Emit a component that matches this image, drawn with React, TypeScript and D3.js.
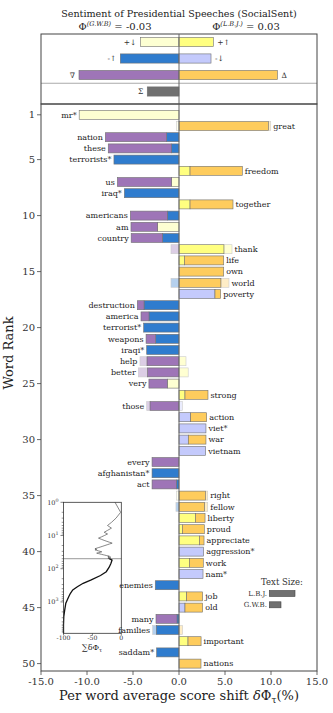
import React from 'react';
import * as d3 from 'd3';

// ---- data ----
const words = ['mr*','great','nation','these','terrorists*','freedom','us','iraq*','together','americans','am','country','thank','life','own','world','poverty','destruction','america','terrorist*','weapons','iraqi*','help','better','very','strong','those','action','viet*','war','vietnam','every','afghanistan*','act','right','fellow','liberty','proud','appreciate','aggression*','work','nam*','enemies','job','old','many','families','important','saddam*','nations'];
// frequency component of each word's shift
const freqParts = [-10.85,-0.25,-1.34,-0.84,-7.07,1.2,-0.8,-5.94,1.2,-1.27,-2.32,-1.8,5.76,0.58,0,-0.87,3.91,-3.8,-3.26,-3.84,-2.53,-3.51,0.76,1.0,-1.27,0.65,0.36,1.27,2.93,1.01,2.9,0,-2.93,-0.29,-0.25,-0.33,1.78,0.36,2.21,2.68,1.12,2.61,-2.58,0.83,0.65,-0.22,-2.86,0.98,-2.43,0];
const freqTypes = ['+d','+d','-u','-u','-u','+u','+d','-u','+u','-u','+d','-u','+u','+u','+u','-u','-d','-u','-u','-u','-u','-u','+u','+u','+d','+u','-d','-d','-d','-d','-d','-u','-u','-u','+d','-u','+u','+u','+u','-d','+u','-d','-u','+u','-d','-u','-u','+u','-u','+u'];
// score (sentiment change) component
const scoreParts = [0,9.97,-6.67,-6.85,0,5.68,-5.9,0,4.67,-4.02,-2.9,-3.4,-0.87,4.28,4.86,5.43,0.62,-0.73,-0.87,0,-1.05,0,-4.24,-4.42,-2.0,2.5,-3.51,1.74,0,1.92,0,-2.93,0,-2.64,3.12,3.12,1.05,2.39,0.51,0,1.52,0,0,1.74,1.92,-2.28,0.4,1.42,0,2.39];

const summaryLabels = ['+↓','+↑','-↑','-↓','∇','Δ','Σ'];
const summaryValues = [-4.2,3.73,-6.38,3.48,-10.87,10.7,-3.45];
const summaryRows = [0,0,1,1,2,2,3];
const summaryTypes = ['+d','+u','-u','-d','neg','pos','total'];

const rankTicks = [1,5,10,15,20,25,30,35,40,45,50];
const xTicks = [-15,-10,-5,0,5,10,15];

// cumulative tail beyond rank 50
const tailRanks = [55,70,90,123,160,218,275,350,437,550,700,1100,1800,2800,5000,8830];
const tailCum = [-16,-18,-21,-26,-36,-52,-66,-76,-84,-88,-91,-96,-98,-99.5,-100,-100];
const insetXTicks = [-100,-50,0];
const insetYTicks = [1,10,100,1000];

const legendLabels = ['L.B.J.','G.W.B.'];
const legendSizes = [1.0,0.455];

const COLORS: Record<string,string> = {
  '+u':'#FFFF80','+d':'#FDFFD2','-u':'#2F7CCE','-d':'#C4CAFC',
  pos:'#FECC5D', neg:'#9E75B7', total:'#707070'
};

const FONT = 'DejaVu Serif';
const W = 333, H = 713;

type Seg = {a:number;b:number;c:string;f:boolean};
function segs(cp:number, cs:number, t:string): Seg[] {
  const out: Seg[] = [];
  const pc = COLORS[t];
  const sc = cs >= 0 ? COLORS.pos : COLORS.neg;
  if (cp * cs >= 0) {
    if (cp !== 0) out.push({a:0,b:cp,c:pc,f:false});
    if (cs !== 0) out.push({a:cp,b:cp+cs,c:sc,f:false});
  } else {
    const tot = cp + cs;
    if (Math.abs(cp) >= Math.abs(cs)) {
      out.push({a:0,b:tot,c:pc,f:false});
      out.push({a:tot,b:cp,c:pc,f:true});
      out.push({a:0,b:cs,c:sc,f:true});
    } else {
      out.push({a:0,b:tot,c:sc,f:false});
      out.push({a:tot,b:cs,c:sc,f:true});
      out.push({a:0,b:cp,c:pc,f:true});
    }
  }
  return out;
}

export default function App() {
  const left = 41, right = 317, topY = 34, mainTop = 104, bottom = 671;
  const x = d3.scaleLinear().domain([-15,15]).range([left,right]);
  const y = d3.scaleLinear().domain([0,50.66]).range([103.6,bottom]);
  const ty = d3.scaleLinear().domain([0,3]).range([42,91.5]);
  const barH = 9;
  const cx = x(0);

  // inset
  const ix = d3.scaleLinear().domain([-100,0]).range([63.5,121.3]);
  const iy = d3.scaleLog().domain([1,8830]).range([502.3,633.3]);
  let run = 0;
  const cum = words.map((_,i)=>{ run += freqParts[i]+scoreParts[i]; return [i+1, run] as [number,number]; });
  const headLine = d3.line<[number,number]>().x(d=>ix(d[1])).y(d=>iy(d[0]));
  const tail: [number,number][] = [cum[cum.length-1], ...tailRanks.map((r,i)=>[r,tailCum[i]] as [number,number])];
  const minor: number[] = [];
  for (let e=0;e<4;e++) for (let m=2;m<10;m++){ const v=m*Math.pow(10,e); if (v<8830) minor.push(v); }

  const legW = d3.scaleLinear().domain([0,1]).range([0,25.7]);

  return (
    <svg width={W} height={H} style={{position:'absolute',left:0,top:0,background:'#fff'}} fontFamily={FONT}>
      <rect x={0} y={0} width={W} height={H} fill="#fff"/>
      {/* title */}
      <text x={179} y={17} textAnchor="middle" fontSize={9.6} fill="#222">Sentiment of Presidential Speeches (SocialSent)</text>
      <text x={115} y={30} textAnchor="middle" fontSize={10} fill="#222">Φ<tspan fontSize={6.5} fontStyle="italic" dy={-4}>(G.W.B)</tspan><tspan dy={4}> = -0.03</tspan></text>
      <text x={246} y={30} textAnchor="middle" fontSize={10} fill="#222">Φ<tspan fontSize={6.5} fontStyle="italic" dy={-4}>(L.B.J.)</tspan><tspan dy={4}> = 0.03</tspan></text>

      {/* summary panel */}
      <line x1={left} x2={right} y1={ty(2.5)} y2={ty(2.5)} stroke="#aaa" strokeWidth={1.2}/>
      {summaryValues.map((v,i)=>{
        const yy = ty(summaryRows[i]);
        const x0 = x(Math.min(0,v)), w = Math.abs(x(v)-x(0));
        return (
          <g key={'s'+i}>
            <rect x={x0} y={yy-4.6} width={w} height={9.2} fill={COLORS[summaryTypes[i]]} stroke="#707070" strokeWidth={0.6}/>
            <text x={v<0 ? x(v)-4 : x(v)+4} y={yy+2.7} fontSize={7.5} textAnchor={v<0?'end':'start'} fill="#333">{summaryLabels[i]}</text>
          </g>
        );
      })}
      <rect x={left} y={topY} width={right-left} height={mainTop-topY} fill="none" stroke="#444" strokeWidth={1}/>

      {/* inset */}
      <g>
        <line x1={ix(-100)} x2={ix(0)} y1={iy(50)} y2={iy(50)} stroke="#999" strokeWidth={1}/>
        <path d={headLine(cum) || ''} fill="none" stroke="#555" strokeWidth={0.7}/>
        <path d={headLine(tail) || ''} fill="none" stroke="#111" strokeWidth={1.3}/>
        <rect x={ix(-100)} y={iy(1)} width={ix(0)-ix(-100)} height={iy(8830)-iy(1)} fill="none" stroke="#333" strokeWidth={0.8}/>
        {minor.map((v,i)=>(<line key={'mn'+i} x1={ix(-100)-1.8} x2={ix(-100)} y1={iy(v)} y2={iy(v)} stroke="#333" strokeWidth={0.5}/>))}
        {insetYTicks.map((v,i)=>(
          <g key={'iy'+i}>
            <line x1={ix(-100)-3} x2={ix(-100)} y1={iy(v)} y2={iy(v)} stroke="#333" strokeWidth={0.6}/>
            <text x={ix(-100)-5} y={iy(v)+2.3} fontSize={6.5} textAnchor="end" fill="#333">10<tspan fontSize={4.8} dy={-2.8}>{Math.round(Math.log10(v))}</tspan></text>
          </g>
        ))}
        {insetXTicks.map((v,i)=>(
          <g key={'ix'+i}>
            <line x1={ix(v)} x2={ix(v)} y1={iy(8830)} y2={iy(8830)+2} stroke="#333" strokeWidth={0.6}/>
            <text x={ix(v)} y={iy(8830)+7} fontSize={6.2} textAnchor="middle" fill="#333">{v}</text>
          </g>
        ))}
        <text x={92} y={650} fontSize={8} textAnchor="middle" fill="#222">∑δΦ<tspan fontSize={5.5} dy={1.8}>τ</tspan></text>
      </g>

      {/* bars */}
      {words.map((w,i)=>{
        const r = i+1;
        const yy = y(r);
        const ss = segs(freqParts[i], scoreParts[i], freqTypes[i]);
        const tot = freqParts[i]+scoreParts[i];
        const lo = d3.min(ss,s=>Math.min(s.a,s.b)) ?? 0;
        const hi = d3.max(ss,s=>Math.max(s.a,s.b)) ?? 0;
        return (
          <g key={'b'+i}>
            {ss.map((s,j)=>(
              <rect key={j} x={x(Math.min(s.a,s.b))} y={yy-barH/2} width={Math.abs(x(s.b)-x(s.a))} height={barH}
                fill={s.c} stroke="#707070" strokeWidth={0.6} opacity={s.f?0.35:1}/>
            ))}
            <text x={tot<0 ? x(lo)-2.5 : x(hi)+2.5} y={yy+2.8} fontSize={8} textAnchor={tot<0?'end':'start'} fill="#222">{w}</text>
          </g>
        );
      })}

      {/* center line */}
      <line x1={cx} x2={cx} y1={topY} y2={bottom} stroke="#666" strokeWidth={1}/>
      {/* main frame */}
      <rect x={left} y={mainTop} width={right-left} height={bottom-mainTop} fill="none" stroke="#444" strokeWidth={1}/>

      {/* y axis */}
      {rankTicks.map((t,i)=>(
        <g key={'yt'+i}>
          <line x1={left-4} x2={left} y1={y(t)} y2={y(t)} stroke="#444" strokeWidth={0.8}/>
          <text x={left-6} y={y(t)+3.5} fontSize={10} textAnchor="end" fill="#333">{t}</text>
        </g>
      ))}
      <text transform={`translate(13,353) rotate(-90)`} fontSize={13} textAnchor="middle" fill="#222">Word Rank</text>

      {/* x axis */}
      {xTicks.map((t,i)=>(
        <g key={'xt'+i}>
          <line x1={x(t)} x2={x(t)} y1={bottom} y2={bottom+4} stroke="#444" strokeWidth={0.8}/>
          <text x={x(t)} y={bottom+14} fontSize={10} textAnchor="middle" fill="#333">{t.toFixed(1)}</text>
        </g>
      ))}
      <text x={179} y={700} fontSize={13} textAnchor="middle" fill="#222">Per word average score shift <tspan fontStyle="italic">δ</tspan>Φ<tspan fontSize={9} dy={2.5}>τ</tspan><tspan dy={-2.5}>(%)</tspan></text>

      {/* legend */}
      <text x={282} y={584.5} fontSize={8.5} textAnchor="middle" fill="#333">Text Size:</text>
      {legendLabels.map((l,i)=>{
        const yy = 593.5 + i*11.3;
        return (
          <g key={'lg'+i}>
            <text x={267} y={yy+2.5} fontSize={7} textAnchor="end" fill="#333">{l}</text>
            <rect x={269.3} y={yy-3} width={legW(legendSizes[i])} height={6} fill="#707070" stroke="#444" strokeWidth={0.6}/>
          </g>
        );
      })}
    </svg>
  );
}
